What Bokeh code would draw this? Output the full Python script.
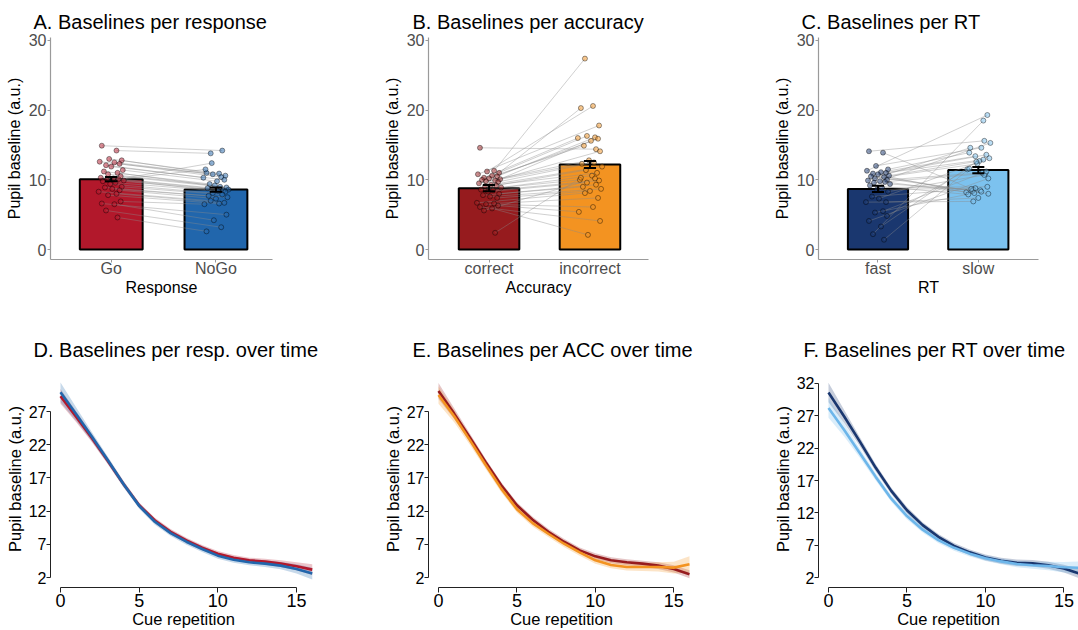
from bokeh.plotting import figure
from bokeh.layouts import row, column
from bokeh.models import FixedTicker, Range1d
from bokeh.embed import file_html
from bokeh.resources import INLINE

FONT = "Liberation Sans"

# ---------------- data: bar panels ----------------
resp_labels = ["Go", "NoGo"]
resp_means = [10.1, 8.6]
resp_se = [0.3, 0.3]
go_vals = [14.9, 14.2, 13.0, 12.8, 12.6, 12.5, 12.3, 12.1, 11.9, 11.4, 11.2, 11.0, 10.8, 10.5, 10.3, 10.2, 10.1,
           10.0, 9.9, 9.8, 9.6, 9.4, 9.0, 8.9, 8.7, 8.5, 8.3, 8.0, 7.8, 6.9, 6.6, 6.5, 5.6, 4.6]
nogo_vals = [14.2, 13.8, 10.9, 11.0, 10.6, 10.8, 10.4, 10.3, 10.0, 9.8, 9.4, 8.9, 9.2, 9.0, 8.8, 8.6, 12.4,
             8.5, 8.4, 11.5, 8.3, 8.1, 7.9, 7.7, 7.5, 7.3, 7.0, 6.7, 6.6, 6.5, 5.0, 4.2, 3.2, 2.6]

acc_labels = ["correct", "incorrect"]
acc_means = [8.8, 12.2]
acc_se = [0.45, 0.5]
correct_vals = [14.6, 11.3, 11.2, 11.0, 10.8, 10.6, 10.5, 10.3, 10.2, 10.1, 10.0, 9.9, 9.8, 9.7, 9.5, 9.3, 9.2,
                9.1, 8.9, 8.6, 8.5, 8.3, 8.0, 7.8, 7.6, 7.4, 6.7, 6.6, 6.5, 6.3, 6.1, 5.9, 5.6, 2.4]
incorrect_vals = [14.4, 27.4, 20.6, 20.3, 17.8, 16.3, 16.1, 16.0, 15.9, 15.6, 14.9, 14.1, 12.8, 12.5, 12.3, 11.9,
                  11.4, 11.0, 10.6, 10.0, 9.9, 9.6, 9.3, 9.0, 8.7, 8.4, 8.1, 7.4, 6.1, 5.4, 4.1, 2.1, 10.2, 10.3]

rt_labels = ["fast", "slow"]
rt_means = [8.7, 11.4]
rt_se = [0.45, 0.45]
fast_vals = [14.1, 13.9, 12.0, 11.5, 11.3, 11.1, 11.0, 10.9, 10.8, 10.6, 10.5, 10.4, 10.2, 10.0, 9.9, 9.8, 9.7,
             9.6, 9.4, 9.2, 8.9, 8.6, 8.3, 7.6, 7.3, 6.8, 6.8, 5.5, 5.3, 4.8, 4.1, 3.3, 2.2, 1.4]
slow_vals = [15.6, 8.6, 14.6, 13.9, 19.3, 13.4, 12.9, 8.2, 13.6, 12.7, 8.4, 8.0, 12.3, 11.0, 14.6, 15.3, 8.1,
             10.9, 8.5, 7.9, 9.0, 8.8, 10.7, 8.7, 13.1, 7.4, 6.9, 11.2, 8.3, 11.5, 10.2, 12.6, 18.5, 11.6]

# horizontal jitter of the subject points (category units)
jitter = [-0.09, 0.05, -0.02, 0.10, -0.11, 0.03, 0.08, -0.05, 0.00, 0.11, -0.07, 0.06, -0.03, 0.09, -0.10, 0.02,
          0.07, -0.04, 0.12, -0.08, 0.04, -0.01, 0.10, -0.06, 0.01, 0.08, -0.12, 0.05, -0.03, 0.09, -0.09, 0.03,
          -0.05, 0.06]

# ---------------- data: time-course panels ----------------
cue_rep = list(range(17))
d_go = [29.3, 26.2, 23.0, 19.6, 16.1, 12.9, 10.6, 8.9, 7.6, 6.5, 5.6, 5.0, 4.6, 4.4, 4.1, 3.7, 3.2]
d_go_se = [1.1, 0.8, 0.6, 0.5, 0.45, 0.4, 0.4, 0.4, 0.4, 0.4, 0.4, 0.4, 0.4, 0.45, 0.5, 0.6, 0.8]
d_nogo = [29.9, 26.6, 23.2, 19.7, 16.1, 12.8, 10.4, 8.7, 7.4, 6.3, 5.3, 4.7, 4.3, 4.1, 3.8, 3.3, 2.6]
d_nogo_se = [1.5, 1.0, 0.7, 0.55, 0.5, 0.45, 0.45, 0.45, 0.45, 0.45, 0.45, 0.45, 0.45, 0.5, 0.55, 0.7, 0.9]

e_correct = [30.1, 26.7, 23.1, 19.4, 15.9, 12.9, 10.7, 8.9, 7.4, 6.1, 5.2, 4.6, 4.3, 4.1, 3.8, 3.3, 2.5]
e_correct_se = [1.2, 0.8, 0.6, 0.5, 0.45, 0.45, 0.45, 0.45, 0.45, 0.45, 0.45, 0.45, 0.45, 0.45, 0.5, 0.55, 0.6]
e_incorrect = [29.5, 26.3, 22.7, 19.0, 15.4, 12.3, 10.2, 8.6, 7.1, 5.8, 4.6, 3.9, 3.6, 3.6, 3.6, 3.5, 4.0]
e_incorrect_se = [1.3, 0.9, 0.7, 0.6, 0.55, 0.5, 0.5, 0.5, 0.5, 0.5, 0.5, 0.5, 0.55, 0.6, 0.7, 0.9, 1.2]

f_fast = [30.6, 26.9, 23.0, 19.0, 15.4, 12.4, 10.1, 8.3, 6.9, 5.9, 5.1, 4.6, 4.3, 4.2, 3.9, 3.4, 2.6]
f_fast_se = [1.5, 1.0, 0.7, 0.55, 0.5, 0.5, 0.45, 0.45, 0.45, 0.45, 0.45, 0.45, 0.5, 0.5, 0.55, 0.6, 0.7]
f_slow = [28.2, 24.8, 21.2, 17.6, 14.2, 11.5, 9.4, 7.8, 6.6, 5.7, 5.0, 4.5, 4.1, 3.9, 3.8, 3.6, 3.5]
f_slow_se = [1.5, 1.0, 0.7, 0.55, 0.5, 0.5, 0.45, 0.45, 0.45, 0.45, 0.45, 0.45, 0.5, 0.55, 0.65, 0.8, 1.0]

# colours
go_col, nogo_col = "#B2182B", "#2166AC"
correct_col, incorrect_col = "#961B1E", "#F39321"
fast_col, slow_col = "#1A376F", "#7CC2EF"


def style_title(p, offset, standoff, line_height):
    p.title.text_font = FONT
    p.title.text_font_size = "20px"
    p.title.text_font_style = "normal"
    p.title.text_color = "black"
    p.title.text_line_height = line_height
    p.title.offset = offset
    p.title.standoff = standoff


def bar_panel(title, labels, means, ses, v1, v2, c1, c2, xlab, width, bl, br, xr, toff):
    p = figure(width=width, height=300, x_range=Range1d(*xr), y_range=Range1d(-1.435, 30.43),
               output_backend="svg", toolbar_location=None, title=title,
               min_border_left=bl, min_border_right=br, min_border_top=37, min_border_bottom=41)
    style_title(p, toff, 10, 1.2)
    p.outline_line_color = None
    p.xgrid.visible = False
    p.ygrid.visible = False
    p.background_fill_color = "white"

    p.vbar(x=[1, 2], top=means, width=0.6, fill_color=[c1, c2], line_color="black", line_width=2)

    x1 = [1 + j for j in jitter]
    x2 = [2 + j for j in reversed(jitter)]
    p.segment(x0=x1, y0=v1, x1=x2, y1=v2, line_color="#8a8a8a", line_alpha=0.45, line_width=0.9)
    p.scatter(x=x1, y=v1, size=5, fill_color=c1, fill_alpha=0.5, line_color="black",
              line_alpha=0.5, line_width=0.8)
    p.scatter(x=x2, y=v2, size=5, fill_color=c2, fill_alpha=0.5, line_color="black",
              line_alpha=0.5, line_width=0.8)

    lo = [m - s for m, s in zip(means, ses)]
    hi = [m + s for m, s in zip(means, ses)]
    p.segment(x0=[1, 2], y0=lo, x1=[1, 2], y1=hi, line_color="black", line_width=2)
    p.segment(x0=[0.94, 1.94], y0=lo, x1=[1.06, 2.06], y1=lo, line_color="black", line_width=2)
    p.segment(x0=[0.94, 1.94], y0=hi, x1=[1.06, 2.06], y1=hi, line_color="black", line_width=2)

    p.xaxis.ticker = FixedTicker(ticks=[1, 2])
    p.xaxis.major_label_overrides = {1: labels[0], 2: labels[1]}
    p.yaxis.ticker = FixedTicker(ticks=[0, 10, 20, 30])
    for ax in (p.xaxis, p.yaxis):
        ax.axis_line_color = "#9a9a9a"
        ax.axis_line_width = 1.2
        ax.major_tick_line_color = "#9a9a9a"
        ax.major_tick_in = 0
        ax.minor_tick_line_color = None
        ax.major_label_text_font = FONT
        ax.major_label_text_font_size = "16px"
        ax.major_label_text_color = "#4d4d4d"
        ax.axis_label_text_font = FONT
        ax.axis_label_text_font_size = "16px"
        ax.axis_label_text_font_style = "normal"
        ax.axis_label_text_color = "black"
    p.xaxis.axis_label = xlab
    p.yaxis.axis_label = "Pupil baseline (a.u.)"
    p.xaxis.major_tick_out = 3
    p.xaxis.major_label_standoff = -3
    p.xaxis.axis_label_standoff = -1
    p.yaxis.major_tick_out = 3
    p.yaxis.major_label_standoff = 1
    p.yaxis.axis_label_standoff = 3
    return p


def curve_panel(title, series, yticks, width, bl, br, xr, yr, toff):
    p = figure(width=width, height=330, x_range=Range1d(*xr), y_range=Range1d(*yr),
               output_backend="svg", toolbar_location=None, title=title,
               min_border_left=bl, min_border_right=br, min_border_top=70, min_border_bottom=41)
    style_title(p, toff, 20, 1.0)
    p.outline_line_color = None
    p.xgrid.visible = False
    p.ygrid.visible = False
    for ys, se, col in series:
        lo = [y - s for y, s in zip(ys, se)]
        hi = [y + s for y, s in zip(ys, se)]
        p.varea(x=cue_rep, y1=lo, y2=hi, fill_color=col, fill_alpha=0.25)
    for ys, se, col in series:
        p.line(x=cue_rep, y=ys, line_color=col, line_width=2.6)

    p.xaxis.ticker = FixedTicker(ticks=[0, 5, 10, 15])
    p.xaxis.bounds = (0, 15)
    p.yaxis.ticker = FixedTicker(ticks=yticks)
    p.yaxis.bounds = (yticks[0], yticks[-1])
    for ax in (p.xaxis, p.yaxis):
        ax.axis_line_color = "#222222"
        ax.axis_line_width = 1
        ax.major_tick_line_color = "#222222"
        ax.major_tick_in = 0
        ax.minor_tick_line_color = None
        ax.major_label_text_font = FONT
        ax.major_label_text_color = "black"
        ax.axis_label_text_font = FONT
        ax.axis_label_text_font_size = "16.5px"
        ax.axis_label_text_font_style = "normal"
        ax.axis_label_text_color = "black"
    p.xaxis.major_tick_out = 5
    p.yaxis.major_tick_out = 4
    p.xaxis.major_label_text_font_size = "18px"
    p.yaxis.major_label_text_font_size = "16px"
    p.xaxis.axis_label = "Cue repetition"
    p.yaxis.axis_label = "Pupil baseline (a.u.)"
    p.xaxis.major_label_standoff = 1
    p.xaxis.axis_label_standoff = 0
    p.yaxis.major_label_standoff = 0
    p.yaxis.axis_label_standoff = 2
    return p


pA = bar_panel("A. Baselines per response", resp_labels, resp_means, resp_se, go_vals, nogo_vals,
               go_col, nogo_col, "Response", 375, 50, 103, (0.42, 2.54), -17)
pB = bar_panel("B. Baselines per accuracy", acc_labels, acc_means, acc_se, correct_vals, incorrect_vals,
               correct_col, incorrect_col, "Accuracy", 385, 53, 112, (0.40, 2.58), -16)
pC = bar_panel("C. Baselines per RT", rt_labels, rt_means, rt_se, fast_vals, slow_vals,
               fast_col, slow_col, "RT", 318, 58, 40, (0.407, 2.60), -17)

yt1 = [2, 7, 12, 17, 22, 27]
yt2 = [2, 7, 12, 17, 22, 27, 32]
pD = curve_panel("D. Baselines per resp. over time",
                 [(d_go, d_go_se, go_col), (d_nogo, d_nogo_se, nogo_col)],
                 yt1, 375, 50, 59, (-0.636, 16.27), (0.507, 33.19), -17)
pE = curve_panel("E. Baselines per ACC over time",
                 [(e_correct, e_correct_se, correct_col), (e_incorrect, e_incorrect_se, incorrect_col)],
                 yt1, 385, 53, 66, (-0.637, 16.32), (0.507, 33.19), -16)
pF = curve_panel("F. Baselines per RT over time",
                 [(f_fast, f_fast_se, fast_col), (f_slow, f_slow_se, "#6DB6EA")],
                 yt2, 318, 58, 0, (-0.637, 15.93), (0.468, 34.0), -15)

layout = column(row(pA, pB, pC, spacing=0), row(pD, pE, pF, spacing=0), spacing=0)
open("out.html", "w").write(file_html(layout, INLINE))
